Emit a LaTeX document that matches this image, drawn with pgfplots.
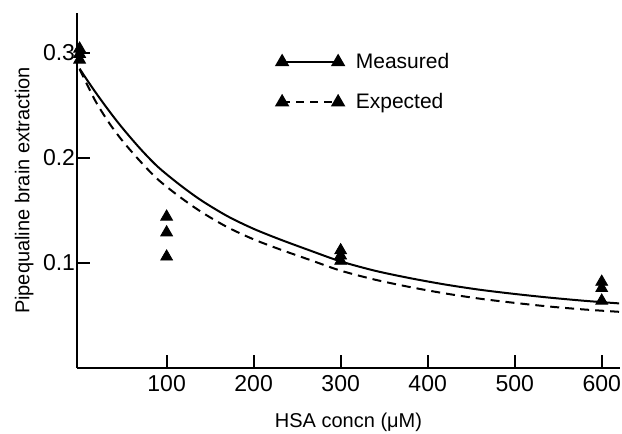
\documentclass[border=0pt]{standalone}
\usepackage{fontspec}
\setmainfont{Liberation Sans}
\usepackage{pgfplots}
\pgfplotsset{compat=1.18}

\pgfplotstableread{
x y
0   0.285
10  0.2725
20  0.2605
35  0.2435
50  0.2277
70  0.2085
90  0.1915
115 0.1745
140 0.1595
170 0.1445
200 0.1325
230 0.1225
265 0.1118
300 0.1015
340 0.0925
380 0.0855
420 0.0795
460 0.0745
500 0.0705
540 0.067
580 0.064
620 0.0615
}\measured
\pgfplotstableread{
x y
0   0.2845
10  0.2675
20  0.2515
35  0.2320
50  0.2155
70  0.1965
90  0.1795
115 0.1630
140 0.1485
170 0.1340
200 0.1225
230 0.1130
265 0.1028
300 0.0927
340 0.0840
380 0.0770
420 0.0710
460 0.0660
500 0.0620
540 0.0585
580 0.0557
620 0.0535
}\expected
\pgfplotstableread{
x y
0   0.304
0   0.299
0   0.2935
100 0.144
100 0.129
100 0.106
300 0.112
300 0.107
300 0.102
600 0.082
600 0.076
600 0.064
}\points

\begin{document}
\begin{tikzpicture}
\useasboundingbox (-38.5pt,-33pt) rectangle (272.5pt,184pt);
\begin{axis}[
    at={(0,0)}, anchor=south west,
    scale only axis, width=271.5pt, height=177.5pt,
    xmin=-3, xmax=621, ymin=0, ymax=0.338,
    axis x line=bottom, axis y line=left,
    axis line style={-, line width=0.9pt},
    tick align=inside, major tick length=6.5pt,
    every tick/.style={black, line width=0.9pt},
    xtick={100,200,...,600}, ytick={0.1,0.2,0.3},
    /pgf/number format/assume math mode=true,
    yticklabel style={inner sep=0.8pt, /pgf/number format/.cd, fixed, precision=1, fixed zerofill},
    tick label style={font=\fontsize{11.5}{13}\selectfont},
    label style={font=\fontsize{11}{13}\selectfont},
    xlabel={HSA concn (μM)},
    ylabel={Pipequaline brain extraction},
    every axis x label/.style={at={(axis description cs:0.5,-0.152)}, anchor=center},
    every axis y label/.style={at={(axis description cs:-0.097,0.5)}, anchor=center, rotate=90},
    legend image code/.code={\draw[#1] plot coordinates {(0pt,0pt) (28pt,0pt)};},
    legend style={at={(rel axis cs:0.3665,0.90)}, anchor=north west, draw=none, fill=none,
        inner sep=0pt, row sep=7pt, column sep=4pt, font=\fontsize{10.5}{12.5}\selectfont},
    legend cell align=left,
]
\addlegendimage{black, line width=0.9pt, mark=triangle*, mark size=3.3pt, mark options={solid}}
\addlegendentry{Measured}
\addlegendimage{black, line width=0.9pt, dash pattern=on 4pt off 3pt, mark=triangle*, mark size=3.3pt, mark options={solid}}
\addlegendentry{Expected}
\addplot[black, line width=1pt, smooth, forget plot] table {\measured};
\addplot[black, line width=1pt, smooth, dash pattern=on 4.5pt off 3pt, forget plot] table {\expected};
\addplot[only marks, mark=triangle*, mark size=3.4pt, black, forget plot] table {\points};
\end{axis}
\end{tikzpicture}
\end{document}
